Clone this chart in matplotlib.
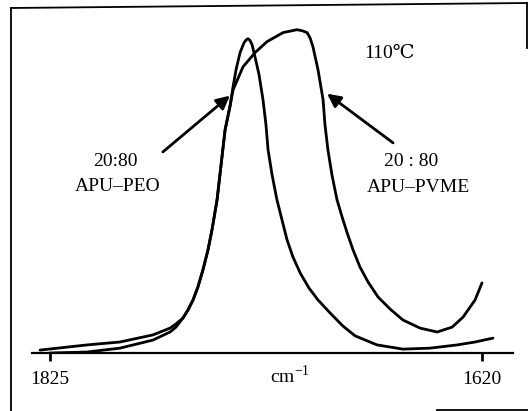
import matplotlib
matplotlib.use("Agg")
import matplotlib.pyplot as plt
from matplotlib.lines import Line2D

plt.rcParams["font.family"] = ["Liberation Serif", "DejaVu Serif"]
plt.rcParams["mathtext.fontset"] = "custom"
plt.rcParams["mathtext.rm"] = "Liberation Serif"

# IR carbonyl region at 110 C, absorbance in arbitrary units (peak = 1)
wn_pvme = [1829.7, 1807.4, 1791.8, 1776.1, 1768.0, 1765.2, 1761.9, 1759.5,
           1757.1, 1754.8, 1752.4, 1750.0, 1748.1, 1745.7, 1743.8, 1741.9,
           1739.6, 1738.1, 1733.4, 1727.7, 1722.0, 1714.4, 1707.8, 1705.4,
           1703.0, 1701.6, 1700.2, 1697.8, 1695.4, 1694.5, 1693.1, 1691.2,
           1688.8, 1686.4, 1684.0, 1681.2, 1677.9, 1674.1, 1669.3, 1663.6,
           1657.5, 1649.4, 1641.3, 1634.2, 1629.0, 1623.3, 1620.0]
abs_pvme = [0.009, 0.025, 0.034, 0.056, 0.077, 0.090, 0.108, 0.133,
            0.164, 0.204, 0.257, 0.319, 0.381, 0.474, 0.582, 0.690,
            0.762, 0.814, 0.885, 0.929, 0.963, 0.991, 1.000, 0.997,
            0.991, 0.975, 0.947, 0.876, 0.783, 0.706, 0.628, 0.551,
            0.474, 0.421, 0.372, 0.319, 0.266, 0.220, 0.173, 0.136,
            0.102, 0.077, 0.065, 0.080, 0.111, 0.164, 0.217]

wn_peo = [1825.0, 1807.4, 1791.8, 1776.1, 1768.0, 1765.2, 1761.9, 1759.5,
          1757.1, 1754.8, 1752.4, 1750.0, 1748.1, 1745.7, 1743.8, 1741.9,
          1739.6, 1738.1, 1736.7, 1734.8, 1732.9, 1731.8, 1731.0, 1730.2,
          1729.1, 1727.7, 1725.8, 1723.9, 1722.5, 1721.5, 1719.6, 1717.3,
          1714.9, 1712.5, 1709.7, 1706.3, 1702.1, 1697.8, 1692.1, 1686.1,
          1680.2, 1669.8, 1657.5, 1644.7, 1631.8, 1623.3, 1614.8]
abs_peo = [0.000, 0.003, 0.015, 0.040, 0.065, 0.080, 0.108, 0.133,
           0.164, 0.204, 0.257, 0.319, 0.381, 0.474, 0.582, 0.690,
           0.762, 0.824, 0.876, 0.929, 0.960, 0.969, 0.972, 0.968,
           0.954, 0.916, 0.861, 0.783, 0.706, 0.628, 0.551, 0.474,
           0.412, 0.350, 0.297, 0.248, 0.201, 0.164, 0.124, 0.084,
           0.053, 0.025, 0.012, 0.015, 0.025, 0.034, 0.046]

tick_pos = [1825, 1620]
tick_lbl = ["1825", "1620"]

W, H = 528, 411
fig = plt.figure(figsize=(W / 100, H / 100), dpi=100)
ax = fig.add_axes([32 / W, 1 - 353 / H, 481 / W, 333 / H])

ax.plot(wn_pvme, abs_pvme, color="black", lw=2.0, solid_capstyle="round",
        solid_joinstyle="round")
ax.plot(wn_peo, abs_peo, color="black", lw=2.0, solid_capstyle="round",
        solid_joinstyle="round")

ax.set_xlim(1833.5, 1605.3)
ax.set_ylim(0, 1.03)
for s in ["top", "right", "left"]:
    ax.spines[s].set_visible(False)
ax.spines["bottom"].set_linewidth(1.6)
ax.set_yticks([])
ax.set_xticks(tick_pos)
ax.set_xticklabels(tick_lbl, fontsize=14)
ax.tick_params(axis="x", direction="out", length=6, width=2, pad=7)

# arrows pointing at the two traces
arrow = dict(arrowstyle="-|>", color="black", lw=2, mutation_scale=20,
             shrinkA=0, shrinkB=0)
ax.annotate("", xy=(1739.6, 0.796), xytext=(1771.4, 0.622), arrowprops=arrow)
ax.annotate("", xy=(1693.5, 0.802), xytext=(1662.2, 0.650), arrowprops=arrow)

def ftext(x, y, s, **kw):
    fig.text(x / W, 1 - y / H, s, ha="center", va="center", fontsize=14, **kw)

ftext(390, 53, "110℃")
ftext(115, 161, "20:80")
ftext(118, 186, "APU–PEO")
ftext(411, 162, "20 : 80")
ftext(418, 187, "APU–PVME")
ftext(290, 376, r"cm$^{-1}$")

# scanned page frame
frame = [((11, 11), (8, 411)), ((11, 527), (8, 3)),
         ((527, 527), (3, 48)), ((437, 528), (410, 410))]
for xs, ys in frame:
    fig.add_artist(Line2D([x / W for x in xs], [1 - y / H for y in ys],
                          color="black", lw=1.3, transform=fig.transFigure))

fig.savefig("out.png", dpi=100)
